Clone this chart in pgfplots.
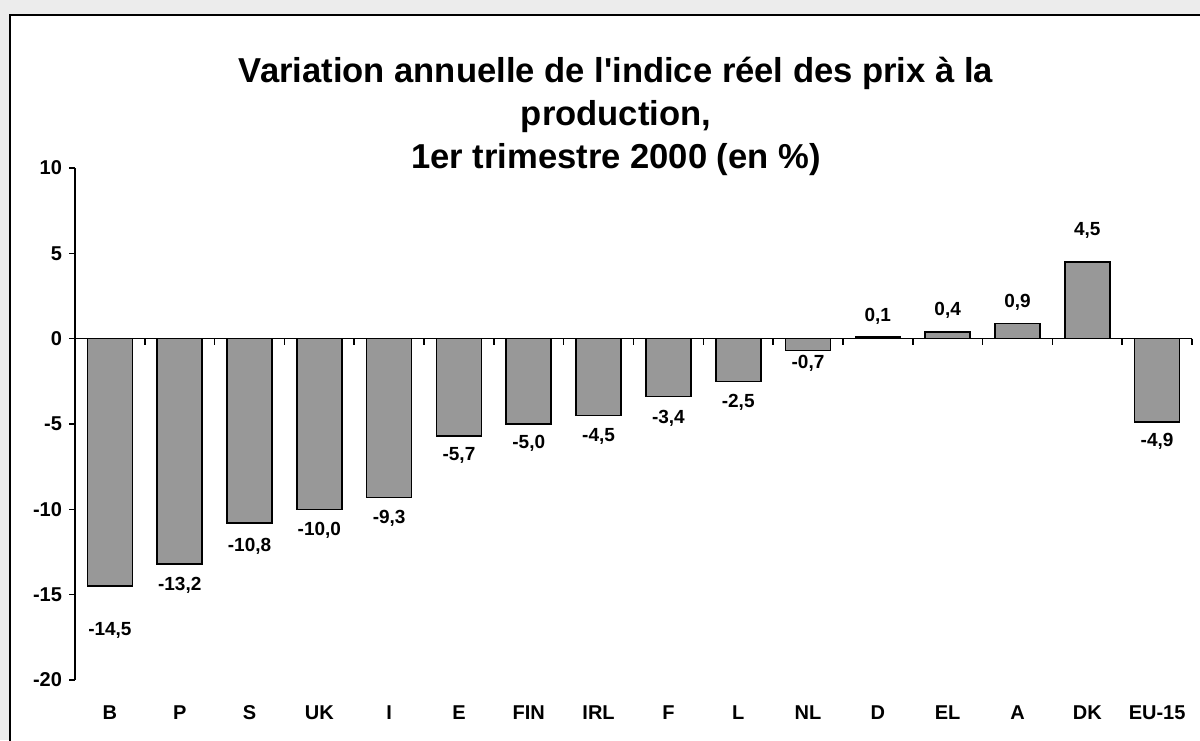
\documentclass[border=0pt]{standalone}
\usepackage{fontspec}
\setmainfont{Liberation Sans}
\newfontfamily\plainfont{Liberation Sans}
\usepackage{pgfplots}
\usepackage{pgfplotstable}
\pgfplotsset{compat=1.18}
\definecolor{bgout}{RGB}{236,236,236}
\definecolor{barfill}{RGB}{152,152,152}
\pgfplotstableread{
x val lab ly
0 -14.5 -14,5 -17.08
1 -13.2 -13,2 -14.47
2 -10.8 -10,8 -12.16
3 -10.0 -10,0 -11.23
4 -9.3 -9,3 -10.53
5 -5.7 -5,7 -6.84
6 -5.0 -5,0 -6.14
7 -4.5 -4,5 -5.73
8 -3.4 -3,4 -4.68
9 -2.5 -2,5 -3.74
10 -0.7 -0,7 -1.46
11 0.1 0,1 1.29
12 0.4 0,4 1.64
13 0.9 0,9 2.11
14 4.5 4,5 6.32
15 -4.9 -4,9 -6.02
}\data
\begin{document}
\begin{tikzpicture}
\path[use as bounding box, clip] (0,0) rectangle (600pt,370pt);
\fill[bgout] (0,0) rectangle (600pt,370pt);
\filldraw[fill=white, draw=black, line width=1pt] (5pt,-10pt) rectangle (610pt,362.5pt);
\node[font=\plainfont\fontsize{17.3}{21.5}\selectfont\bfseries, align=center] at (308pt,312pt)
  {Variation annuelle de l'indice réel des prix à la\\production,\\1er trimestre 2000 (en \%)};
\begin{axis}[
  at={(37.5pt,30pt)}, anchor=south west,
  scale only axis, width=558.5pt, height=256pt,
  xmin=-0.5, xmax=15.5, ymin=-20, ymax=10, enlargelimits=false,
  axis y line*=left, axis x line*=bottom,
  x axis line style={draw=none},
  y axis line style={line width=0.8pt},
  xtick={0,...,15},
  xticklabels={B,P,S,UK,I,E,FIN,IRL,F,L,NL,D,EL,A,DK,EU-15},
  major x tick style={draw=none},
  xticklabel style={font=\fontsize{10}{12}\selectfont\bfseries, text height=7.5pt, text depth=0pt, yshift=-5.5pt},
  ytick={-20,-15,-10,-5,0,5,10},
  yticklabels={-20,-15,-10,-5,0,5,10},
  yticklabel style={font=\fontsize{10}{12}\selectfont\bfseries},
  tick align=outside, major tick length=3pt,
  major y tick style={line width=0.8pt, black},
  clip=false,
]
\addplot[ybar, bar width=0.645, fill=barfill, draw=black, line width=0.8pt]
  table[x=x, y=val] {\data};
\addplot[draw=none, mark=none, nodes near coords, point meta=explicit symbolic,
  nodes near coords align={center},
  every node near coord/.style={font=\fontsize{9.5}{11}\selectfont\bfseries, anchor=center, black}]
  table[x=x, y=ly, meta=lab] {\data};
\draw[line width=0.8pt] (axis cs:-0.5,0) -- (axis cs:15.5,0);
\pgfplotsinvokeforeach{0.5,1.5,...,15.5}{\draw[line width=0.8pt] (axis cs:#1,0) -- ([yshift=-3pt]axis cs:#1,0);}
\end{axis}
\end{tikzpicture}
\end{document}
